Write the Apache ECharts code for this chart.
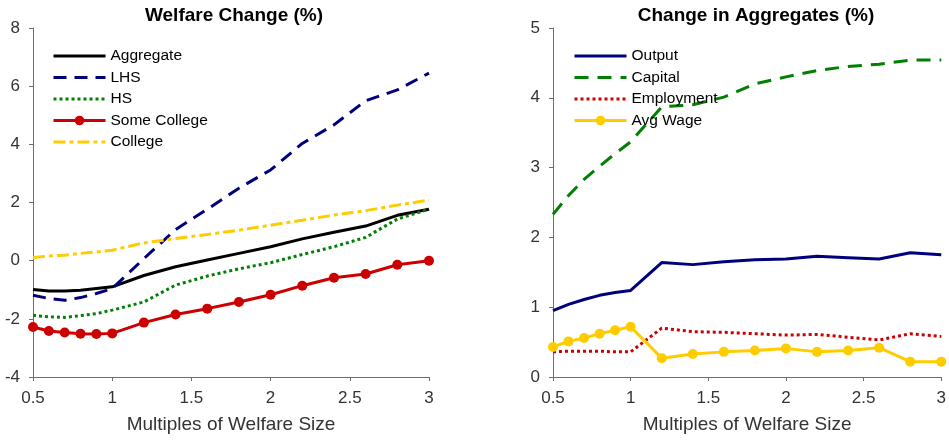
<!DOCTYPE html>
<html>
<head>
<meta charset="utf-8">
<title>Welfare Change and Change in Aggregates</title>
<script src="https://cdn.jsdelivr.net/npm/echarts@6/dist/echarts.min.js"></script>
<style>
  html, body { margin: 0; padding: 0; background: #fff; }
  #chart { width: 949px; height: 441px; }
</style>
</head>
<body>
<div id="chart"></div>
<script>
// Multiples of the welfare program size (x values shared by both panels)
const multiples = [0.5, 0.6, 0.7, 0.8, 0.9, 1.0, 1.2, 1.4, 1.6, 1.8, 2.0, 2.2, 2.4, 2.6, 2.8, 3.0];

// Panel 1: welfare change (%) by education group
const aggregate   = [-0.99, -1.04, -1.04, -1.02, -0.96, -0.90, -0.51, -0.21, 0.02, 0.25, 0.48, 0.75, 0.98, 1.19, 1.56, 1.77];
const lhs         = [-1.19, -1.30, -1.36, -1.27, -1.13, -0.96, 0.07, 1.07, 1.77, 2.49, 3.12, 4.03, 4.67, 5.50, 5.87, 6.45];
const hs          = [-1.88, -1.93, -1.95, -1.89, -1.82, -1.70, -1.42, -0.84, -0.53, -0.28, -0.07, 0.21, 0.48, 0.80, 1.43, 1.77];
const someCollege = [-2.28, -2.42, -2.47, -2.51, -2.52, -2.50, -2.13, -1.85, -1.65, -1.42, -1.17, -0.86, -0.59, -0.46, -0.14, 0.00];
const college     = [0.11, 0.16, 0.19, 0.25, 0.30, 0.36, 0.61, 0.76, 0.90, 1.05, 1.22, 1.39, 1.57, 1.72, 1.91, 2.08];

// Panel 2: change in aggregates (%)
const output     = [0.95, 1.04, 1.11, 1.17, 1.21, 1.24, 1.64, 1.61, 1.65, 1.68, 1.69, 1.73, 1.71, 1.69, 1.78, 1.75];
const capital    = [2.33, 2.60, 2.83, 3.02, 3.20, 3.37, 3.87, 3.90, 4.01, 4.20, 4.30, 4.39, 4.45, 4.48, 4.54, 4.54];
const employment = [0.36, 0.37, 0.37, 0.37, 0.36, 0.36, 0.70, 0.65, 0.64, 0.62, 0.60, 0.61, 0.57, 0.53, 0.62, 0.58];
const avgWage    = [0.43, 0.51, 0.56, 0.62, 0.67, 0.72, 0.27, 0.33, 0.36, 0.38, 0.41, 0.36, 0.38, 0.42, 0.22, 0.22];

// Axis ranges and tick spacing
const xTicks = { min: 0.5, max: 3, interval: 0.5 };
const leftY  = { min: -4, max: 8, interval: 2 };
const rightY = { min: 0, max: 5, interval: 1 };

const FONT = 'Liberation Sans, Arial, Helvetica, sans-serif';
const C = {
  black: '#000000', navy: '#00007f', green: '#007f00', red: '#cc0000', gold: '#ffcc00',
  axis: '#6e6e6e', text: '#333333'
};

const pairs = ys => multiples.map((x, i) => [x, ys[i]]);

function lineSeries(name, data, gridIdx, color, type, withMarker) {
  return {
    name, type: 'line', xAxisIndex: gridIdx, yAxisIndex: gridIdx,
    data: pairs(data),
    showSymbol: !!withMarker,
    symbol: withMarker ? 'circle' : 'none',
    symbolSize: 10,
    smooth: false,
    animation: false,
    itemStyle: { color },
    lineStyle: { color, width: 3, type, cap: 'butt' },
    emphasis: { disabled: true }
  };
}

function xAxis(gridIndex) {
  return {
    type: 'value', gridIndex, min: xTicks.min, max: xTicks.max, interval: xTicks.interval,
    name: 'Multiples of Welfare Size', nameLocation: 'middle', nameGap: 38,
    nameTextStyle: { fontFamily: FONT, fontSize: 19, color: C.text },
    axisLine: { show: true, onZero: false, lineStyle: { color: C.axis, width: 1 } },
    axisTick: { show: true, length: 4, inside: false, lineStyle: { color: C.axis } },
    axisLabel: { fontFamily: FONT, fontSize: 17, color: C.text, margin: 13 },
    splitLine: { show: false }
  };
}

function yAxis(gridIndex, r) {
  return {
    type: 'value', gridIndex, min: r.min, max: r.max, interval: r.interval,
    axisLine: { show: true, onZero: false, lineStyle: { color: C.axis, width: 1 } },
    axisTick: { show: true, length: 4, inside: false, lineStyle: { color: C.axis } },
    axisLabel: { fontFamily: FONT, fontSize: 17, color: C.text, margin: 13 },
    splitLine: { show: false }
  };
}

// Legend entries: series without markers hide the legend symbol, keeping only the line
const hidden = { opacity: 0 };
const legendCommon = {
  orient: 'vertical', itemWidth: 52, itemHeight: 12, itemGap: 5.5, padding: 0,
  textStyle: { fontFamily: FONT, fontSize: 15.5, color: '#000' },
  lineStyle: { width: 3 },
  selectedMode: false
};

const chart = echarts.init(document.getElementById('chart'), null, { renderer: 'canvas' });
chart.setOption({
  backgroundColor: '#ffffff',
  animation: false,
  title: [
    { text: 'Welfare Change (%)', left: 229, top: 1, textAlign: 'center',
      textStyle: { fontFamily: FONT, fontSize: 19, fontWeight: 'bold', color: '#000' } },
    { text: 'Change in Aggregates (%)', left: 751, top: 1, textAlign: 'center',
      textStyle: { fontFamily: FONT, fontSize: 19, fontWeight: 'bold', color: '#000' } }
  ],
  legend: [
    Object.assign({}, legendCommon, { left: 52, top: 48,
      data: [
        { name: 'Aggregate', itemStyle: hidden },
        { name: 'LHS', itemStyle: hidden },
        { name: 'HS', itemStyle: hidden },
        { name: 'Some College' },
        { name: 'College', itemStyle: hidden }
      ] }),
    Object.assign({}, legendCommon, { left: 573, top: 48,
      data: [
        { name: 'Output', itemStyle: hidden },
        { name: 'Capital', itemStyle: hidden },
        { name: 'Employment', itemStyle: hidden },
        { name: 'Avg Wage' }
      ] })
  ],
  grid: [
    { left: 33, top: 28, width: 396, height: 349, containLabel: false },
    { left: 553, top: 28, width: 395, height: 349, containLabel: false }
  ],
  xAxis: [xAxis(0), xAxis(1)],
  yAxis: [yAxis(0, leftY), yAxis(1, rightY)],
  series: [
    lineSeries('Aggregate', aggregate, 0, C.black, 'solid'),
    lineSeries('LHS', lhs, 0, C.navy, [13, 8]),
    lineSeries('HS', hs, 0, C.green, [3, 3]),
    lineSeries('Some College', someCollege, 0, C.red, 'solid', true),
    lineSeries('College', college, 0, C.gold, [12, 4, 4, 4]),
    lineSeries('Output', output, 1, C.navy, 'solid'),
    lineSeries('Capital', capital, 1, C.green, [14, 9]),
    lineSeries('Employment', employment, 1, C.red, [3, 3]),
    lineSeries('Avg Wage', avgWage, 1, C.gold, 'solid', true)
  ]
});
</script>
</body>
</html>
